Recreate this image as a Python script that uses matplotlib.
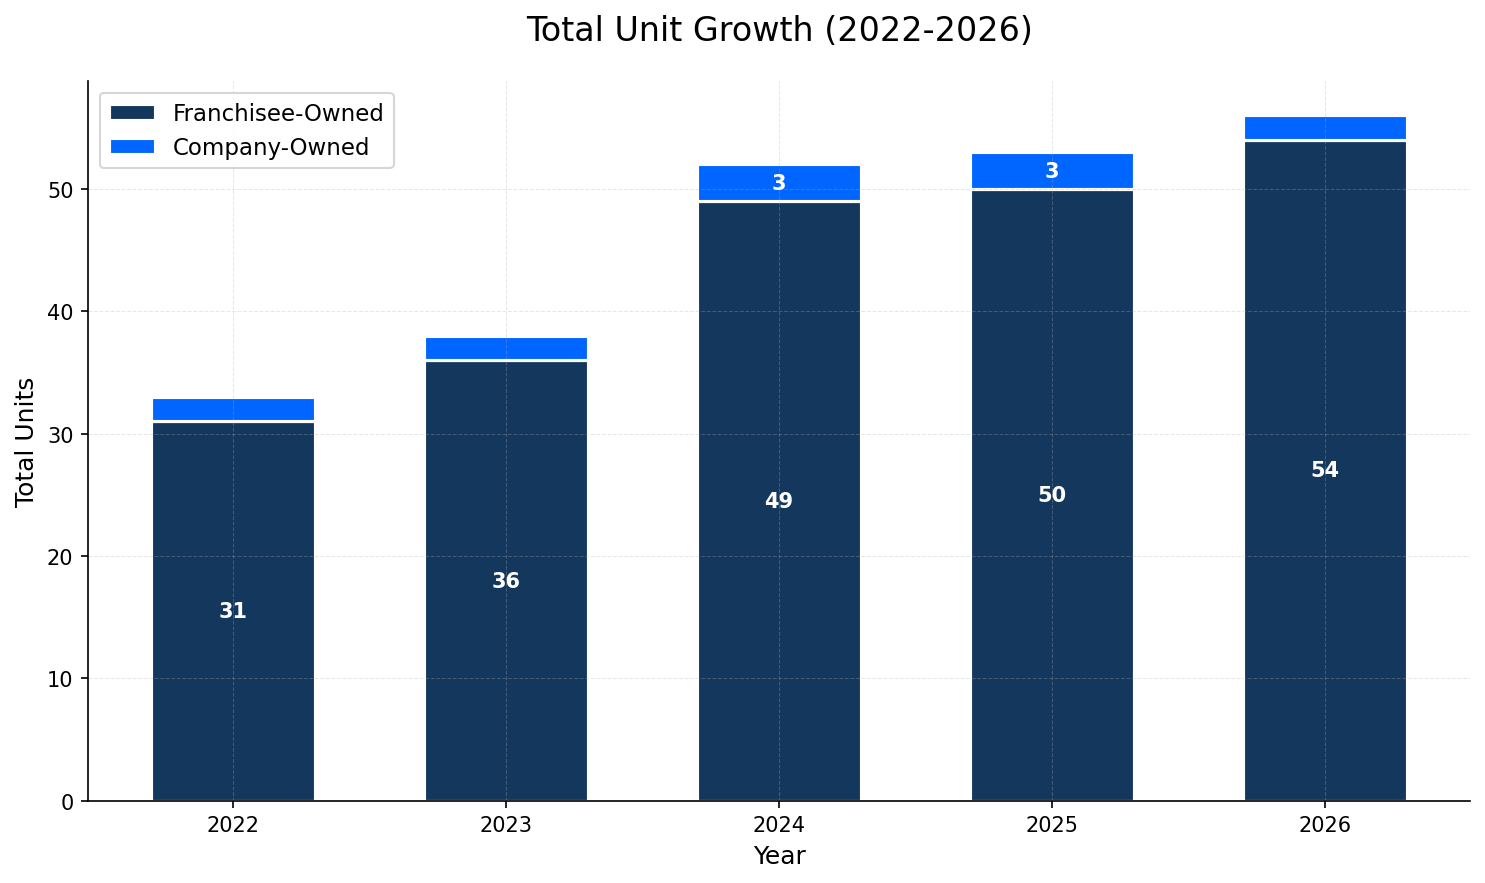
import numpy as np
from matplotlib import pyplot as plt

years = ["2022", "2023", "2024", "2025", "2026"]
franchisee = [31, 36, 49, 50, 54]
company = [2, 2, 3, 3, 2]

fig, ax = plt.subplots(figsize=(9.9, 5.8933), dpi=150)
fig.subplots_adjust(left=0.0593, right=0.99, top=0.907, bottom=0.093)

x = np.arange(len(years))
ax.bar(x, franchisee, width=0.6, color="#14375E", edgecolor="white",
       linewidth=1.5, label="Franchisee-Owned")
ax.bar(x, company, width=0.6, bottom=franchisee, color="#0066FF",
       edgecolor="white", linewidth=1.5, label="Company-Owned")

# value labels inside the bars
for i in range(len(years)):
    ax.text(x[i], franchisee[i] / 2, str(franchisee[i]), ha="center", va="center",
            color="white", fontsize=10, fontweight="bold")
    if company[i] > 2:
        ax.text(x[i], franchisee[i] + company[i] / 2, str(company[i]), ha="center",
                va="center", color="white", fontsize=10, fontweight="bold")

ax.set_xticks(x)
ax.set_xticklabels(years)
ax.tick_params(labelsize=10)
ax.set_xlabel("Year", fontsize=12)
ax.set_ylabel("Total Units", fontsize=12)
ax.set_title("Total Unit Growth (2022-2026)", fontsize=16, pad=20)
ax.grid(True, linestyle="--", linewidth=0.5, alpha=0.3)
ax.spines["top"].set_visible(False)
ax.spines["right"].set_visible(False)
ax.legend(loc="upper left", fontsize=11)

plt.savefig("out.png")
